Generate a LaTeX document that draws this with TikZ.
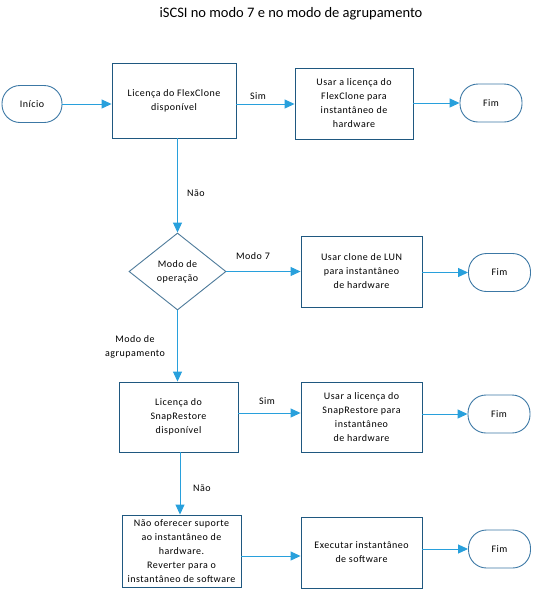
\documentclass[tikz,border=0pt]{standalone}
\usepackage{fontspec}
\setmainfont{Carlito}
\newfontfamily\spaced[LetterSpace=5]{Carlito}
\usetikzlibrary{shapes.geometric,arrows.meta}
\definecolor{boxc}{RGB}{31,88,128}
\definecolor{arrc}{RGB}{40,160,220}
\definecolor{termc}{RGB}{60,120,165}
\tikzset{
  base/.style={font=\spaced\fontsize{10}{14}\selectfont, align=center, inner sep=2pt},
  boxn/.style={base, draw=boxc, line width=0.9pt, rectangle},
  term/.style={base, draw=termc, line width=0.9pt, rectangle, rounded corners=18pt, minimum width=62pt, minimum height=38pt},
  dec/.style={base, draw=boxc!80, line width=0.9pt, diamond, inner sep=0pt, minimum width=97pt, minimum height=77pt, shape aspect=1.26},
  conn/.style={draw=arrc, line width=1pt, -{Triangle[length=10pt,width=9pt]}},
  lbl/.style={font=\spaced\fontsize{10}{14}\selectfont, align=center, inner sep=0pt}
}
\begin{document}
\begin{tikzpicture}[x=1pt,y=-1pt]
\useasboundingbox (0,0) rectangle (533,590);
\node[font=\fontsize{14.5}{16}\selectfont] (title) at (291,14) {iSCSI no modo 7 e no modo de agrupamento};

\node[term, minimum width=60pt, minimum height=37pt] (start) at (32,104) {Início};
\node[boxn, minimum width=124pt, minimum height=75pt] (b1) at (174,100.5) {Licença do FlexClone\\disponível};
\node[boxn, minimum width=118pt, minimum height=71pt] (b2) at (354,103.5) {Usar a licença do\\FlexClone para\\instantâneo de\\hardware};
\node[term] (f1) at (491,103) {Fim};

\node[dec] (d) at (177.5,271.5) {Modo de\\operação};
\node[boxn, minimum width=121pt, minimum height=71pt] (b3) at (361.5,271.5) {Usar clone de LUN\\para instantâneo\\de hardware};
\node[term] (f2) at (499.5,272.5) {Fim};

\node[boxn, minimum width=119pt, minimum height=70pt] (b4) at (178.5,417) {Licença do\\SnapRestore\\disponível};
\node[boxn, minimum width=121pt, minimum height=70pt] (b5) at (361.5,417) {Usar a licença do\\SnapRestore para\\instantâneo\\de hardware};
\node[term] (f3) at (499,414) {Fim};

\node[boxn, minimum width=119pt, minimum height=72pt] (b6) at (181.5,551) {Não oferecer suporte\\ao instantâneo de\\hardware.\\Reverter para o\\instantâneo de software};
\node[boxn, minimum width=121pt, minimum height=71pt] (b7) at (361.5,552.5) {Executar instantâneo\\de software};
\node[term] (f4) at (499.5,549) {Fim};

% labels
\node[lbl] (lsim1) at (258,96) {Sim};
\node[lbl] (lnao1) at (196,193) {Não};
\node[lbl] (lm7) at (253,256) {Modo 7};
\node[lbl] (lagr) at (135,347) {Modo de\\agrupamento};
\node[lbl] (lsim2) at (267,401) {Sim};
\node[lbl] (lnao2) at (202,488) {Não};

% connectors
\draw[conn] (start.east) -- (start.east -| b1.west);
\draw[conn] (b1.east |- 0,104) -- (b2.west |- 0,104);
\draw[conn] (b2.east |- f1.west) -- (f1.west);
\draw[conn] (d.north |- b1.south) -- (d.north);
\draw[conn] (d.east) -- (d.east -| b3.west);
\draw[conn] (b3.east |- f2.west) -- (f2.west);
\draw[conn] (d.south) -- (d.south |- b4.north);
\draw[conn] (b4.east |- 0,413) -- (b5.west |- 0,413);
\draw[conn] (b5.east |- f3.west) -- (f3.west);
\draw[conn] (b4.south -| 180,0) -- (b6.north -| 180,0);
\draw[conn] (b6.east |- 0,556) -- (b7.west |- 0,556);
\draw[conn] (b7.east |- f4.west) -- (f4.west);
\end{tikzpicture}
\end{document}
